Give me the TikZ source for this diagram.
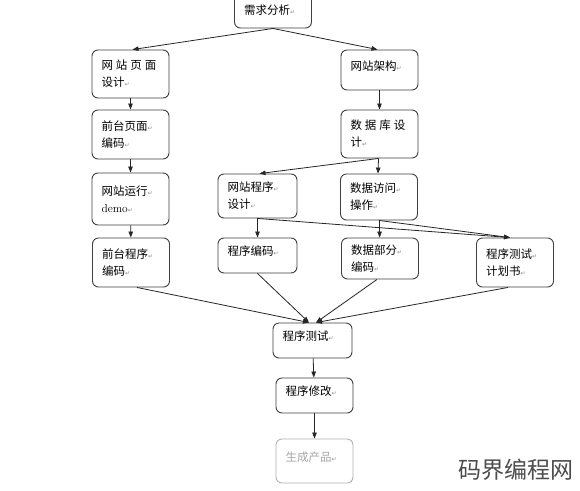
\documentclass[tikz,border=0pt]{standalone}
\usepackage{fontspec}
\usepackage{xcolor}
\usepackage{tikz}
\usetikzlibrary{arrows.meta}
\newfontfamily\cjk{Noto Sans CJK SC}
\newfontfamily\symf{DejaVu Sans}
\newcommand{\parmark}{{\symf\fontsize{6}{6}\selectfont\color{black!45}↵}}
\tikzset{
  stage/.style={draw=black!75, line width=0.9pt, rounded corners=6pt, fill=white,
    text width=58pt, inner xsep=9.5pt, inner ysep=3pt, align=left,
    font=\cjk\fontsize{11.5}{17}\selectfont},
  single/.style={text depth=9pt},
  faded/.style={draw=black!30, text=black!35},
  flow/.style={->, black!85, line width=0.8pt}
}

\begin{document}
\begin{tikzpicture}[x=1pt, y=-1pt, >={Triangle[length=6pt,width=4.5pt]}]

\useasboundingbox[fill=white] (0,0) rectangle (580,490);

% stages of the project
\path
(273,10)      node[stage, minimum height=36pt] (req) {需求分析\parmark}
(130.5,74)    node[stage, minimum height=48pt] (design) {网\hspace{3pt}站\hspace{3pt}页\hspace{3pt}面\\设计\parmark}
(379.5,70)    node[stage, single, minimum height=40pt] (arch) {网站架构\parmark}
(130.5,134.5) node[stage, minimum height=49pt] (front) {前台页面\parmark\\编码\parmark}
(379.5,134)   node[stage, minimum height=48pt] (db) {数\hspace{3pt}据\hspace{3pt}库\hspace{3pt}设\\计\parmark}
(130.5,199)   node[stage, minimum height=52pt] (demo) {网站运行\parmark\\{\rmfamily demo}\parmark}
(257.5,196)   node[stage, minimum height=44pt, text width=60pt] (progdesign) {网站程序\parmark\\设计\parmark}
(379,197)     node[stage, minimum height=46pt] (access) {数据访问\parmark\\操作\parmark}
(131,262.5)   node[stage, minimum height=49pt] (frontcode) {前台程序\parmark\\编码\parmark}
(257.5,255.5) node[stage, single, minimum height=35pt, text width=60pt] (code) {程序编码\parmark}
(380,258.5)   node[stage, minimum height=41pt] (datacode) {数据部分\parmark\\编码\parmark}
(515,262.5)   node[stage, minimum height=49pt] (plan) {程序测试\parmark\\计划书\parmark}
(312.5,340.5) node[stage, single, minimum height=35pt, text width=60pt] (test) {程序测试\parmark}
(314.5,395.5) node[stage, single, minimum height=35pt] (modify) {程序修改\parmark}
(314.5,461)   node[stage, single, faded, minimum height=44pt] (product) {生成产品\parmark};

% connectors
\draw[flow] (req.south) -- ([xshift=2pt]design.north);
\draw[flow] (req.south) -- ([xshift=-2pt]arch.north);
\draw[flow] (design) -- (front);
\draw[flow] (front) -- (demo);
\draw[flow] (demo) -- (frontcode);
\draw[flow] (arch) -- (db);
\draw[flow] ([xshift=-1pt]db.south) -- ([xshift=2pt]progdesign.north);
\draw[flow] ([xshift=-1pt]db.south) -- ([xshift=-1pt]access.north);
\draw[flow] (progdesign) -- (code);
\draw[flow] (progdesign.south) -- ([xshift=-5pt]plan.north);
\draw[flow] (access) -- (datacode);
\draw[flow] (access.south) -- ([xshift=-5pt]plan.north);

\coordinate (inL) at ([xshift=-3.5pt]test.north);
\coordinate (inR) at ([xshift=3.5pt]test.north);
\draw[flow] ([xshift=6pt]frontcode.south) -- (inL);
\draw[flow] (code.south) -- (inL);
\draw[flow] ([xshift=-3pt]datacode.south) -- (inR);
\draw[flow] ([xshift=-7pt]plan.south) -- (inR);

\draw[flow] (test) -- (modify);
\draw[flow] (modify) -- (product);

% site mark
\node[font=\cjk\fontsize{23}{23}\selectfont, text=black!70] (sitemark) at (516,470) {码界编程网};

\end{tikzpicture}
\end{document}
